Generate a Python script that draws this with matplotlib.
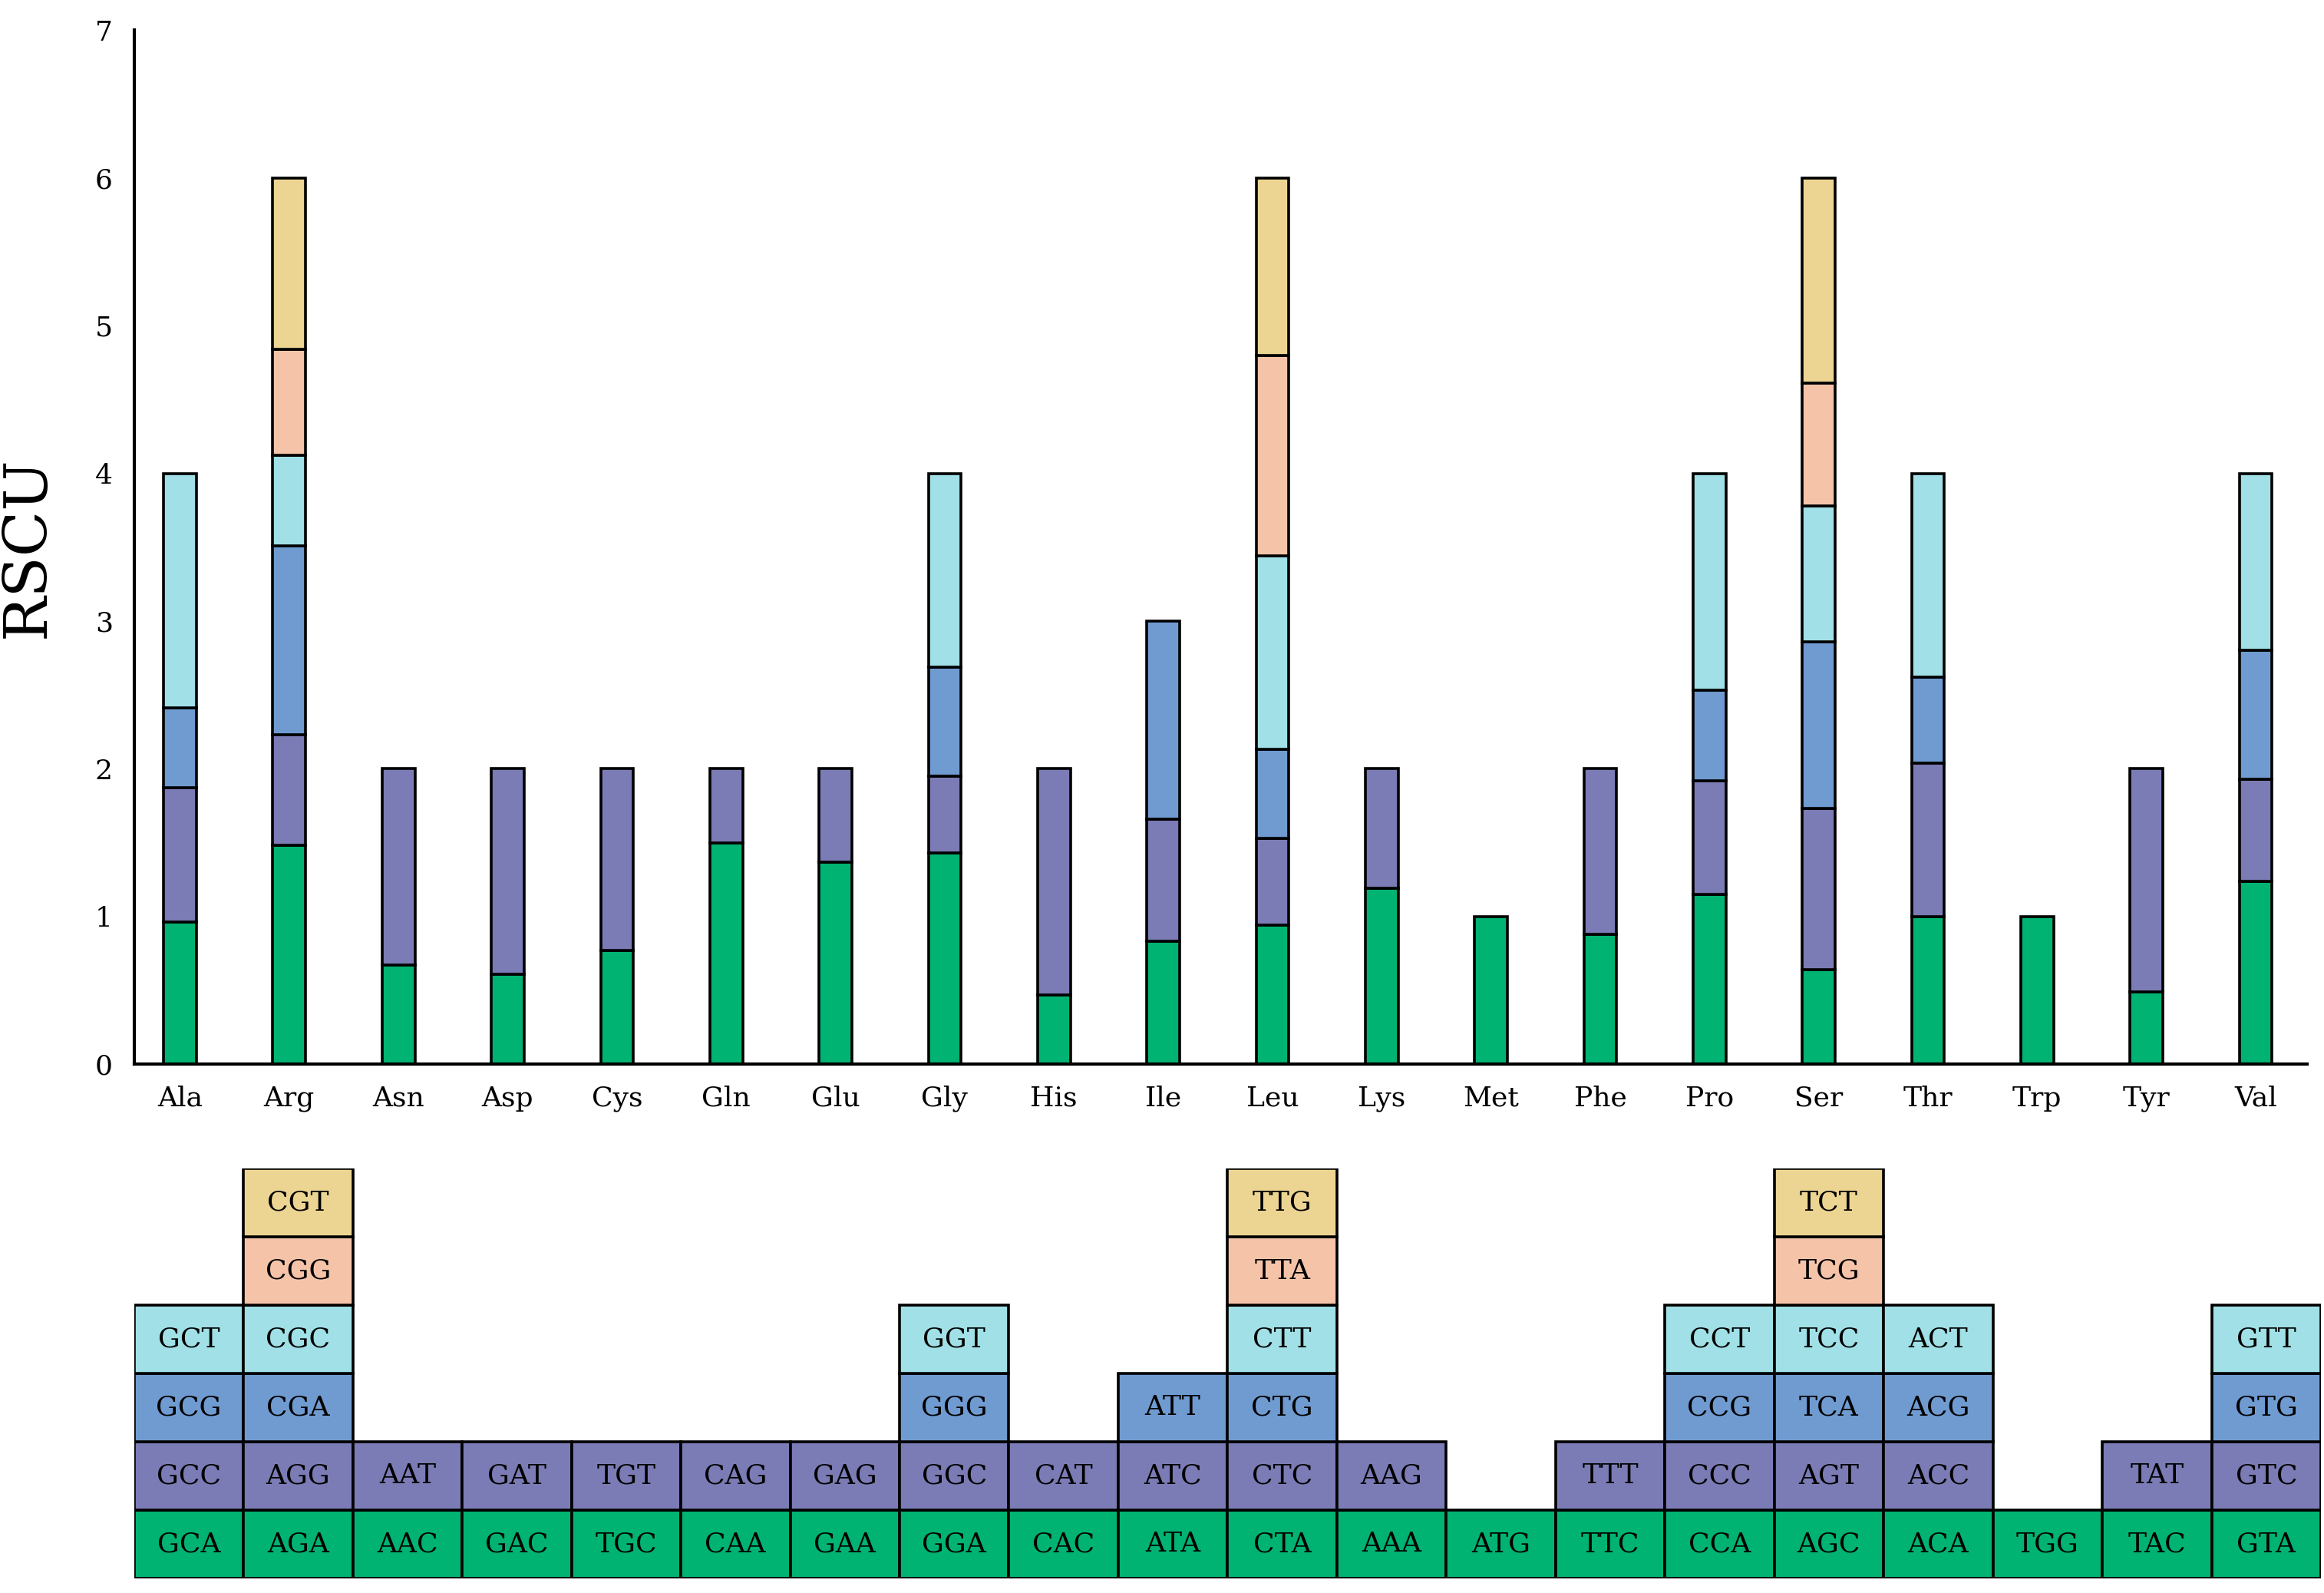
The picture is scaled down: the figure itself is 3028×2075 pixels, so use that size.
import matplotlib
matplotlib.use("Agg")
import matplotlib.pyplot as plt
from matplotlib.patches import Rectangle

amino = ["Ala","Arg","Asn","Asp","Cys","Gln","Glu","Gly","His","Ile","Leu","Lys","Met","Phe","Pro","Ser","Thr","Trp","Tyr","Val"]
codons = [
    ["GCA","GCC","GCG","GCT"],
    ["AGA","AGG","CGA","CGC","CGG","CGT"],
    ["AAC","AAT"],["GAC","GAT"],["TGC","TGT"],["CAA","CAG"],["GAA","GAG"],
    ["GGA","GGC","GGG","GGT"],["CAC","CAT"],["ATA","ATC","ATT"],
    ["CTA","CTC","CTG","CTT","TTA","TTG"],["AAA","AAG"],["ATG"],["TTC","TTT"],
    ["CCA","CCC","CCG","CCT"],["AGC","AGT","TCA","TCC","TCG","TCT"],
    ["ACA","ACC","ACG","ACT"],["TGG"],["TAC","TAT"],["GTA","GTC","GTG","GTT"],
]
rscu = [
    [0.96,0.91,0.54,1.59],
    [1.48,0.75,1.28,0.61,0.72,1.16],
    [0.67,1.33],[0.61,1.39],[0.77,1.23],[1.50,0.50],[1.37,0.63],
    [1.43,0.52,0.74,1.31],[0.47,1.53],[0.83,0.83,1.34],
    [0.94,0.59,0.60,1.31,1.36,1.20],[1.19,0.81],[1.00],[0.88,1.12],
    [1.15,0.77,0.61,1.47],[0.64,1.09,1.13,0.92,0.83,1.39],
    [1.00,1.04,0.58,1.38],[1.00],[0.49,1.51],[1.24,0.69,0.87,1.20],
]
colors = ["#00b373","#7b7bb5","#6f9bd1","#a0e0e6","#f5c4a8","#ecd593"]

fig = plt.figure(figsize=(15.14,10.375), dpi=200)
ax = fig.add_axes([0.0577,0.332,0.935,0.649])
for i,vals in enumerate(rscu):
    b = 0
    for j,v in enumerate(vals):
        ax.bar(i, v, bottom=b, width=0.3, color=colors[j], edgecolor="black", linewidth=1.3)
        b += v
ax.set_xlim(-0.42,19.47)
ax.set_ylim(0,7)
ax.set_xticks(range(len(amino)))
ax.set_xticklabels(amino, family="DejaVu Serif", fontsize=13)
ax.set_yticks(range(8))
ax.set_yticklabels([str(k) for k in range(8)], family="DejaVu Serif", fontsize=13)
ax.tick_params(length=0, pad=10)
for s in ["top","right"]:
    ax.spines[s].set_visible(False)
for s in ["left","bottom"]:
    ax.spines[s].set_linewidth(1.5)
ax.set_ylabel("RSCU", family="DejaVu Serif", fontsize=28, labelpad=18)

bx = fig.add_axes([0.0577,0.0093,0.941,0.2571])
bx.set_xlim(-0.5,19.5)
bx.set_ylim(0,6)
bx.axis("off")
for i,cs in enumerate(codons):
    for j,c in enumerate(cs):
        bx.add_patch(Rectangle((i-0.5,j),1,1,facecolor=colors[j],edgecolor="black",linewidth=1.3))
        bx.text(i,j+0.5,c,ha="center",va="center",family="DejaVu Serif",fontsize=13)

fig.savefig("out.png", dpi=200)
